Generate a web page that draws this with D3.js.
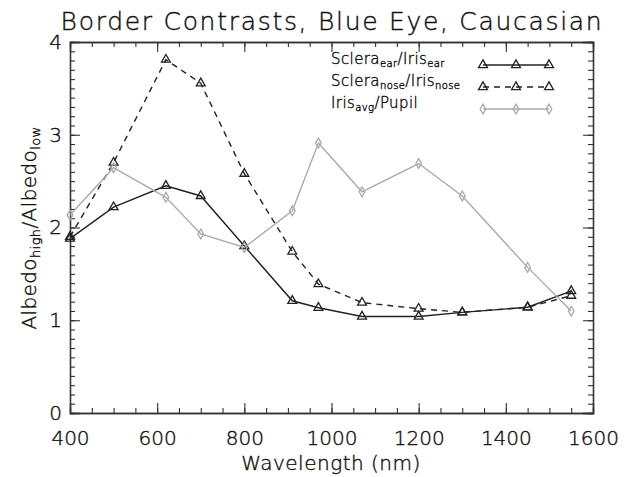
<!DOCTYPE html>
<html>
<head>
<meta charset="utf-8">
<script src="https://cdn.jsdelivr.net/npm/d3@7"></script>
<style>
  body { margin: 0; background: #fff; }
  text { font-family: "DejaVu Sans", sans-serif; font-weight: 200; fill: #111; stroke: #111; stroke-width: 0.4px; }
</style>
</head>
<body>
<div id="chart"></div>
<script>
// wavelengths (nm)
const wavelengths = [400, 500, 620, 700, 800, 910, 970, 1070, 1200, 1300, 1450, 1550]
// Sclera_ear / Iris_ear
const earValues = [1.88, 2.22, 2.45, 2.34, 1.80, 1.21, 1.135, 1.04, 1.04, 1.085, 1.14, 1.315]
// Sclera_nose / Iris_nose
const noseValues = [1.90, 2.70, 3.81, 3.555, 2.58, 1.74, 1.39, 1.19, 1.125, 1.085, 1.14, 1.265]
// Iris_avg / Pupil
const pupilValues = [2.135, 2.645, 2.325, 1.93, 1.785, 2.18, 2.91, 2.385, 2.69, 2.34, 1.57, 1.10]

const xTicks = [400, 600, 800, 1000, 1200, 1400, 1600]
const yTicks = [0, 1, 2, 3, 4]

const width = 624, height = 477
const margin = { top: 42, right: 31, bottom: 64, left: 70 }

const svg = d3.select("#chart").append("svg")
  .attr("width", width)
  .attr("height", height)

const x = d3.scaleLinear().domain([400, 1600]).range([margin.left, width - margin.right])
const y = d3.scaleLinear().domain([0, 4]).range([height - margin.bottom, margin.top])

const axisColor = "#333"

//ticks on all four sides, IDL style (inward)
const xMinor = d3.range(400, 1601, 50)
const yMinor = d3.range(0, 4.001, 0.1)

function boxAxis(axis, g) {
  g.call(axis)
  g.select(".domain").attr("stroke", axisColor).attr("stroke-width", 1.3)
  g.selectAll(".tick line").attr("stroke", axisColor).attr("stroke-width", 1.1)
  g.selectAll("text").style("font-size", "20px").attr("fill", "#111")
}

// bottom
svg.append("g").attr("transform", `translate(0,${y(0)})`)
  .call(g => boxAxis(d3.axisBottom(x).tickValues(xMinor).tickSize(-5).tickFormat(""), g))
svg.append("g").attr("transform", `translate(0,${y(0)})`)
  .call(g => boxAxis(d3.axisBottom(x).tickValues(xTicks).tickSize(-10).tickPadding(18).tickFormat(d3.format("d")), g))
// top
svg.append("g").attr("transform", `translate(0,${y(4)})`)
  .call(g => boxAxis(d3.axisTop(x).tickValues(xMinor).tickSize(-5).tickFormat(""), g))
svg.append("g").attr("transform", `translate(0,${y(4)})`)
  .call(g => boxAxis(d3.axisTop(x).tickValues(xTicks).tickSize(-10).tickFormat(""), g))
// left
svg.append("g").attr("transform", `translate(${x(400)},0)`)
  .call(g => boxAxis(d3.axisLeft(y).tickValues(yMinor).tickSize(-5).tickFormat(""), g))
svg.append("g").attr("transform", `translate(${x(400)},0)`)
  .call(g => boxAxis(d3.axisLeft(y).tickValues(yTicks).tickSize(-10).tickPadding(8).tickFormat(d3.format("d")), g))
// right
svg.append("g").attr("transform", `translate(${x(1600)},0)`)
  .call(g => boxAxis(d3.axisRight(y).tickValues(yMinor).tickSize(-5).tickFormat(""), g))
svg.append("g").attr("transform", `translate(${x(1600)},0)`)
  .call(g => boxAxis(d3.axisRight(y).tickValues(yTicks).tickSize(-10).tickFormat(""), g))

// series
const series = [
  { name: "ear", values: earValues, color: "#222", dash: null, marker: "triangle" },
  { name: "nose", values: noseValues, color: "#222", dash: "6,5", marker: "triangle" },
  { name: "pupil", values: pupilValues, color: "#aaa", dash: null, marker: "diamond" },
]

const line = d3.line().x(d => x(d[0])).y(d => y(d[1]))
const triangle = d3.symbol().type(d3.symbolTriangle).size(34)
const diamond = d3.symbol().type(d3.symbolDiamond).size(28)

function drawMarkers(g, pts, s) {
  g.selectAll("path.marker")
    .data(pts)
    .join("path")
    .attr("class", "marker")
    .attr("transform", d => `translate(${d[0]},${d[1]})`)
    .attr("d", s.marker === "triangle" ? triangle : diamond)
    .attr("fill", "none")
    .attr("stroke", s.color)
    .attr("stroke-width", 1.3)
}

series.forEach(s => {
  const g = svg.append("g")
  const pts = d3.zip(wavelengths, s.values)
  g.append("path")
    .datum(pts)
    .attr("d", line)
    .attr("fill", "none")
    .attr("stroke", s.color)
    .attr("stroke-width", 1.4)
    .attr("stroke-dasharray", s.dash)
  drawMarkers(g, pts.map(p => [x(p[0]), y(p[1])]), s)
})

// legend
const legendLabels = [
  [["Sclera", ""], ["ear", "sub"], ["/Iris", ""], ["ear", "sub"]],
  [["Sclera", ""], ["nose", "sub"], ["/Iris", ""], ["nose", "sub"]],
  [["Iris", ""], ["avg", "sub"], ["/Pupil", ""]],
]
const legendX = 331, legendY = 67, legendStep = 22
series.forEach((s, i) => {
  const ly = legendY + i * legendStep
  const t = svg.append("text")
    .attr("x", legendX)
    .attr("y", ly)
    .style("font-size", "15px")
    .style("letter-spacing", "0.4px")
  legendLabels[i].forEach(([txt, kind]) => {
    t.append("tspan")
      .attr("dy", kind === "sub" ? 3 : (t.selectAll("tspan").size() > 0 ? -3 : 0))
      .style("font-size", kind === "sub" ? "10px" : "15px")
      .text(txt)
  })
  const g = svg.append("g")
  const lx = [483, 516, 549]
  g.append("line")
    .attr("x1", lx[0]).attr("x2", lx[2])
    .attr("y1", ly - 2).attr("y2", ly - 2)
    .attr("stroke", s.color)
    .attr("stroke-width", 1.4)
    .attr("stroke-dasharray", s.dash)
  drawMarkers(g, lx.map(v => [v, ly - 2]), s)
})

// title and axis labels
svg.append("text")
  .attr("x", 332).attr("y", 30)
  .attr("text-anchor", "middle")
  .style("font-size", "25px")
  .style("letter-spacing", "1.7px")
  .text("Border Contrasts, Blue Eye, Caucasian")

svg.append("text")
  .attr("x", 331).attr("y", 470)
  .attr("text-anchor", "middle")
  .style("font-size", "20px")
  .style("letter-spacing", "0.5px")
  .text("Wavelength (nm)")

const yl = svg.append("text")
  .attr("transform", "translate(36,228) rotate(-90)")
  .attr("text-anchor", "middle")
  .style("font-size", "20px")
  .style("letter-spacing", "0.4px")
yl.append("tspan").text("Albedo")
yl.append("tspan").attr("dy", 4).style("font-size", "13px").text("high")
yl.append("tspan").attr("dy", -4).text("/Albedo")
yl.append("tspan").attr("dy", 4).style("font-size", "13px").text("low")
</script>
</body>
</html>
